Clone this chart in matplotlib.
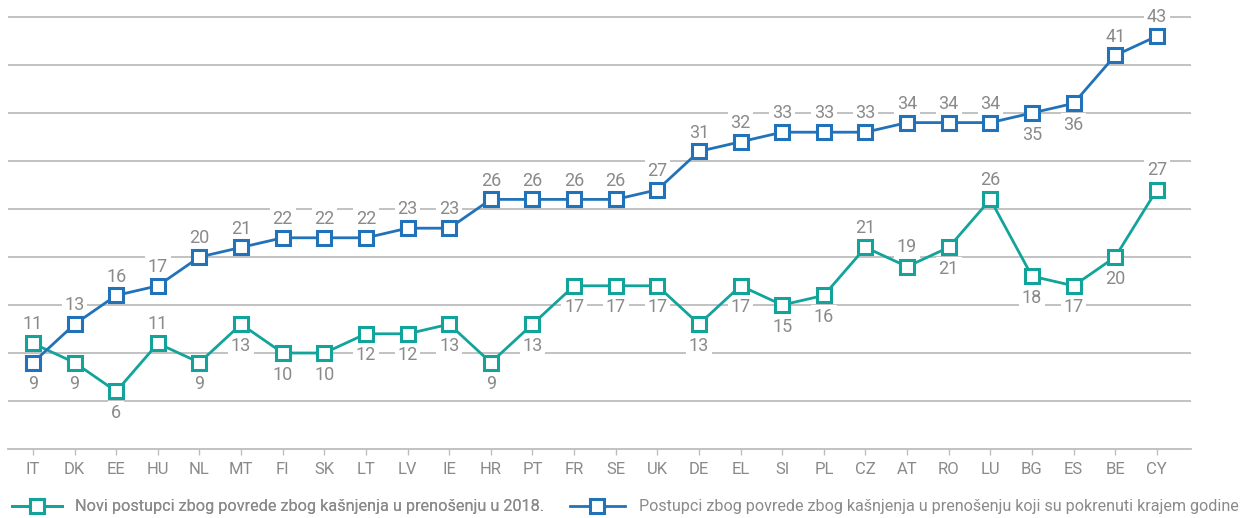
import matplotlib
matplotlib.use("Agg")
import matplotlib.pyplot as plt
from matplotlib import font_manager
from matplotlib.lines import Line2D

# Data
countries = ['IT', 'DK', 'EE', 'HU', 'NL', 'MT', 'FI', 'SK', 'LT', 'LV', 'IE', 'HR', 'PT', 'FR',
             'SE', 'UK', 'DE', 'EL', 'SI', 'PL', 'CZ', 'AT', 'RO', 'LU', 'BG', 'ES', 'BE', 'CY']
new_cases = [11, 9, 6, 11, 9, 13, 10, 10, 12, 12, 13, 9, 13, 17,
             17, 17, 13, 17, 15, 16, 21, 19, 21, 26, 18, 17, 20, 27]
open_cases = [9, 13, 16, 17, 20, 21, 22, 22, 22, 23, 23, 26, 26, 26,
              26, 27, 31, 32, 33, 33, 33, 34, 34, 34, 35, 36, 41, 43]
new_label = 'Novi postupci zbog povrede zbog kašnjenja u prenošenju u 2018.'
open_label = 'Postupci zbog povrede zbog kašnjenja u prenošenju koji su pokrenuti krajem godine'

# which labels go the other way
new_above = {'IT', 'HU', 'CZ', 'AT', 'LU', 'CY'}
open_below = {'IT', 'BG', 'ES'}

names = {f.name for f in font_manager.fontManager.ttflist}
font = 'Liberation Sans Narrow' if 'Liberation Sans Narrow' in names else 'Roboto'
plt.rcParams['font.family'] = [font, 'DejaVu Sans']

teal = '#12a39a'
blue = '#2272b9'
grey_txt = '#8a8a8a'
grid_c = '#bdbdbd'

fig = plt.figure(figsize=(12.43, 5.18), dpi=100)
ax = fig.add_axes([8/1243, 69/518, 1183/1243, 449/518])

x = list(range(len(countries)))
ax.plot(x, new_cases, color=teal, lw=2.0, marker='s', ms=10.5, mfc='white',
        mec=teal, mew=2.2, zorder=4)
ax.plot(x, open_cases, color=blue, lw=2.0, marker='s', ms=10.5, mfc='white',
        mec=blue, mew=2.2, zorder=5)

box = dict(facecolor='white', edgecolor='none', pad=2)
for i, c in enumerate(countries):
    dy = 14 if c in new_above else -15.5
    ax.annotate(str(new_cases[i]), (i, new_cases[i]), xytext=(0, dy), textcoords='offset points',
                ha='center', va='center', fontsize=13, color=grey_txt, bbox=box, zorder=3)
    dy = -15.5 if c in open_below else 13.5
    ax.annotate(str(open_cases[i]), (i, open_cases[i]), xytext=(0, dy), textcoords='offset points',
                ha='center', va='center', fontsize=13, color=grey_txt, bbox=box, zorder=3)

ax.set_xlim(-0.6, 27.82)
ax.set_ylim(0, 46.77)
ax.set_yticks(range(5, 50, 5))
ax.yaxis.grid(True, color=grid_c, lw=1.3)
ax.set_axisbelow(True)
ax.tick_params(axis='y', length=0, labelleft=False)
ax.set_xticks(x)
ax.set_xticklabels(countries)
ax.tick_params(axis='x', length=4, width=1, color=grid_c, labelcolor=grey_txt,
               labelsize=12, pad=5)
for s in ['top', 'left', 'right']:
    ax.spines[s].set_visible(False)
ax.spines['bottom'].set_color(grid_c)
ax.spines['bottom'].set_linewidth(1.3)

h1 = Line2D([], [], color=teal, lw=2.0, marker='s', ms=10.5, mfc='white', mec=teal, mew=2.2)
h2 = Line2D([], [], color=blue, lw=2.0, marker='s', ms=10.5, mfc='white', mec=blue, mew=2.2)
leg1 = fig.legend([h1], [new_label], loc='center left', bbox_to_anchor=(12/1243, 11/518),
                  frameon=False, fontsize=11.7, handlelength=3.1, handletextpad=0.75,
                  borderpad=0, borderaxespad=0, labelcolor=grey_txt)
leg2 = fig.legend([h2], [open_label], loc='center left', bbox_to_anchor=(570/1243, 11/518),
                  frameon=False, fontsize=11.6, handlelength=3.4, handletextpad=0.9,
                  borderpad=0, borderaxespad=0, labelcolor=grey_txt)
fig.add_artist(leg1)

fig.savefig('out.png', dpi=100)
